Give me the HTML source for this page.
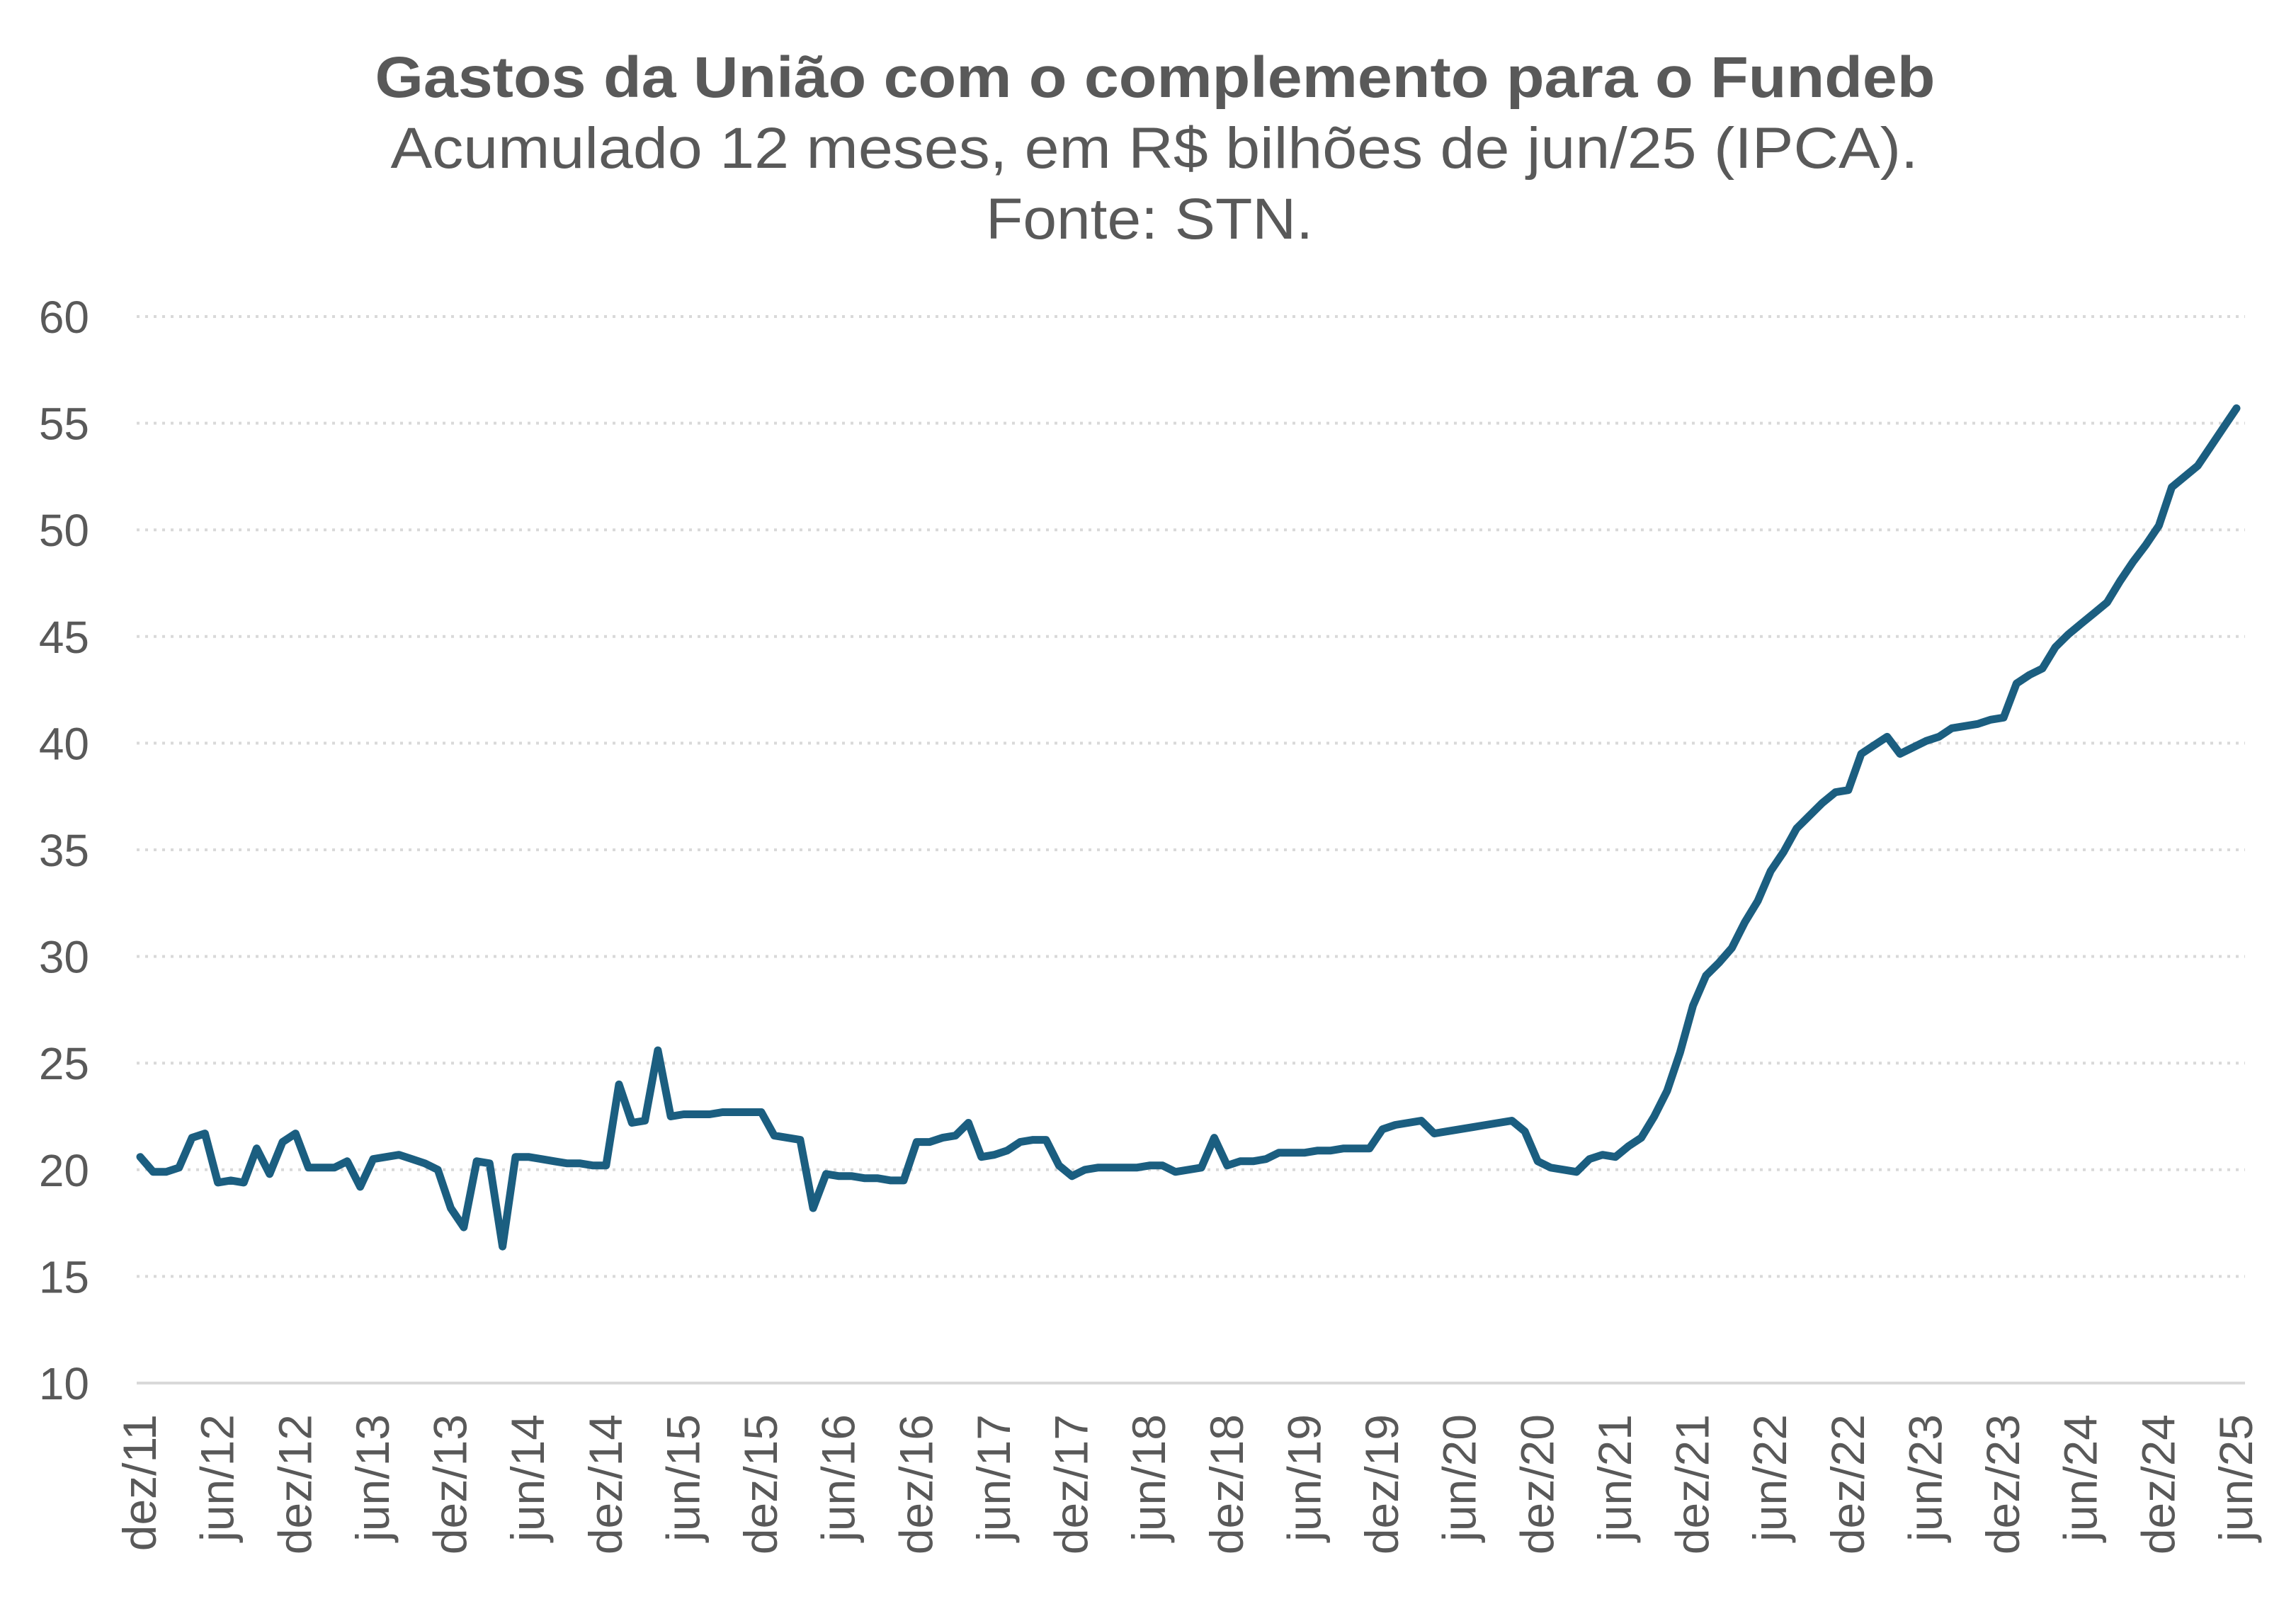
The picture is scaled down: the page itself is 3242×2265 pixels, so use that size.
<!DOCTYPE html>
<html><head><meta charset="utf-8"><style>
html,body{margin:0;padding:0;background:#fff}
svg{display:block;font-family:"Liberation Sans",Arial,sans-serif}
</style></head><body>
<svg id="chart" width="3242" height="2265" viewBox="0 0 3242 2265" xmlns="http://www.w3.org/2000/svg">
<rect width="3242" height="2265" fill="#fff"/>
<text x="1631" y="137" text-anchor="middle" font-size="82" font-weight="bold" fill="#595959" textLength="2203" lengthAdjust="spacingAndGlyphs">Gastos da União com o complemento para o Fundeb</text>
<text x="1630" y="237" text-anchor="middle" font-size="82" fill="#595959" textLength="2157" lengthAdjust="spacingAndGlyphs">Acumulado 12 meses, em R$ bilhões de jun/25 (IPCA).</text>
<text x="1623" y="337" text-anchor="middle" font-size="82" fill="#595959" textLength="462" lengthAdjust="spacingAndGlyphs">Fonte: STN.</text>
<g id="grid"></g><g id="yl"></g><g id="xl"></g><g id="ln"></g>
</svg>
<script>
const yTicks=[10,15,20,25,30,35,40,45,50,55,60];
const xLabels=["dez/11","jun/12","dez/12","jun/13","dez/13","jun/14","dez/14","jun/15","dez/15","jun/16","dez/16","jun/17","dez/17","jun/18","dez/18","jun/19","dez/19","jun/20","dez/20","jun/21","dez/21","jun/22","dez/22","jun/23","dez/23","jun/24","dez/24","jun/25"];
const values=[20.6,19.9,19.9,20.1,21.5,21.7,19.4,19.5,19.4,21.0,19.8,21.3,21.7,20.1,20.1,20.1,20.4,19.2,20.5,20.6,20.7,20.5,20.3,20.0,18.2,17.3,20.4,20.3,16.4,20.6,20.6,20.5,20.4,20.3,20.3,20.2,20.2,24.0,22.2,22.3,25.6,22.5,22.6,22.6,22.6,22.7,22.7,22.7,22.7,21.6,21.5,21.4,18.2,19.8,19.7,19.7,19.6,19.6,19.5,19.5,21.3,21.3,21.5,21.6,22.2,20.6,20.7,20.9,21.3,21.4,21.4,20.2,19.7,20.0,20.1,20.1,20.1,20.1,20.2,20.2,19.9,20.0,20.1,21.5,20.2,20.4,20.4,20.5,20.8,20.8,20.8,20.9,20.9,21.0,21.0,21.0,21.9,22.1,22.2,22.3,21.7,21.8,21.9,22.0,22.1,22.2,22.3,21.8,20.4,20.1,20.0,19.9,20.5,20.7,20.6,21.1,21.5,22.5,23.7,25.5,27.7,29.1,29.7,30.4,31.6,32.6,34.0,34.9,36.0,36.6,37.2,37.7,37.8,39.5,39.9,40.3,39.5,39.8,40.1,40.3,40.7,40.8,40.9,41.1,41.2,42.8,43.2,43.5,44.5,45.1,45.6,46.1,46.6,47.6,48.5,49.3,50.2,52.0,52.5,53.0,53.9,54.8,55.7];
const NS="http://www.w3.org/2000/svg";
const X0=198,X1=3158,Y10=1953,Y60=447;
function xs(i){return X0+(X1-X0)*i/(values.length-1);}
function ys(v){return Y10+(Y60-Y10)*(v-10)/50;}
function mk(t,a,p){const e=document.createElementNS(NS,t);for(const k in a)e.setAttribute(k,a[k]);p.appendChild(e);return e;}
const grid=document.getElementById('grid'),yl=document.getElementById('yl'),xl=document.getElementById('xl'),ln=document.getElementById('ln');
yTicks.forEach(v=>{
  const isBase=v===10;
  const l=mk('line',{x1:193,x2:3170,y1:ys(v),y2:ys(v),stroke:'#d9d9d9','stroke-width':isBase?4:4,'stroke-dasharray':isBase?'none':'4 8'},grid);
  
  
  const t=mk('text',{x:126,y:ys(v)+23,'text-anchor':'end','font-size':64,fill:'#595959'},yl);
  t.textContent=v;
  
  
});
xLabels.forEach((s,k)=>{
  const x=xs(k*6)+22, y=1997;
  const t=mk('text',{x:x,y:y,'text-anchor':'end','font-size':66,fill:'#595959',transform:'rotate(-90 '+x+' '+y+')'},xl);
  t.textContent=s;
  
  
});
const d=values.map((v,i)=>(i?'L':'M')+xs(i).toFixed(1)+' '+ys(v).toFixed(1)).join(' ');
const p=mk('path',{d:d,fill:'none',stroke:'#1b5e80','stroke-width':11,'stroke-linejoin':'round','stroke-linecap':'round'},ln);


</script>
</body></html>
